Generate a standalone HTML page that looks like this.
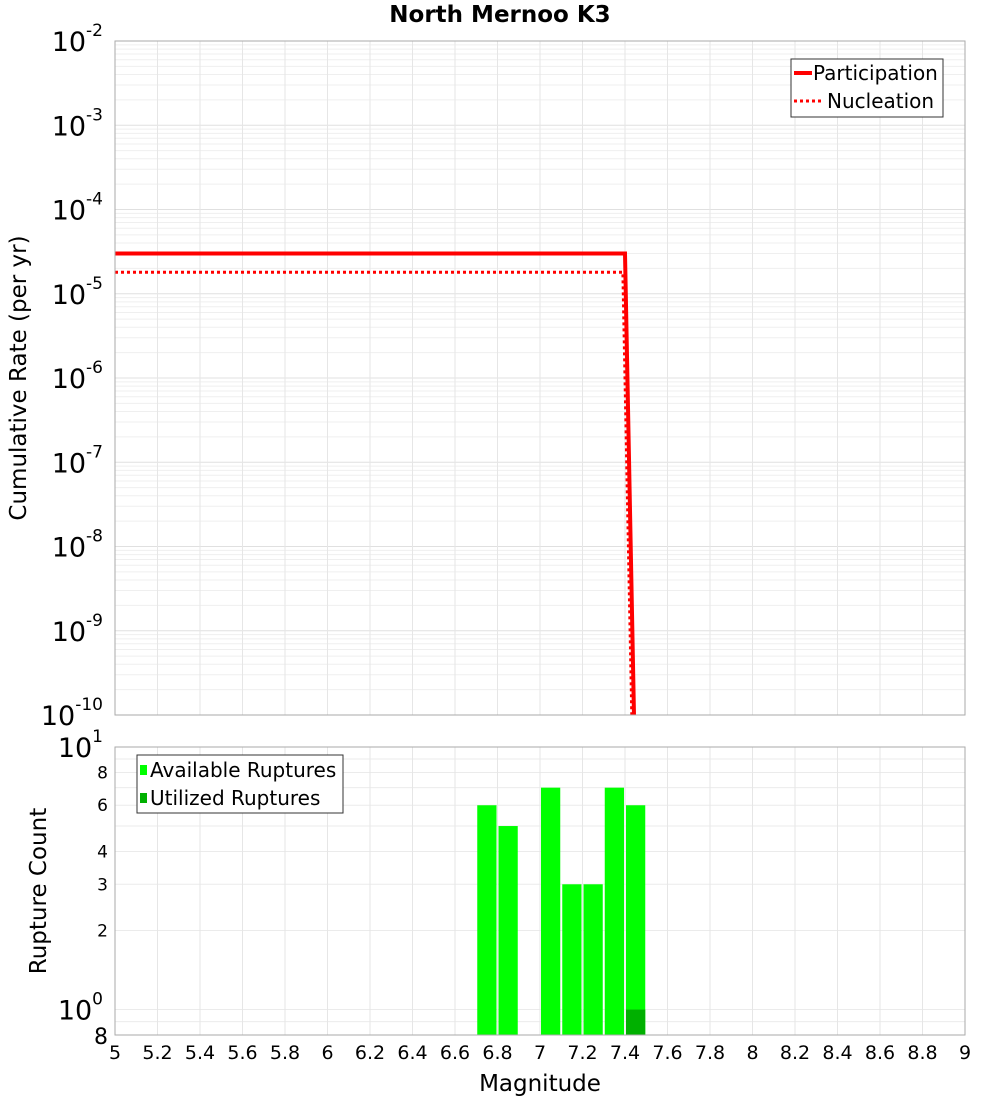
<!DOCTYPE html>
<html><head><meta charset="utf-8"><style>
body{margin:0;background:#fff;font-family:"Liberation Sans","DejaVu Sans",sans-serif}
svg text{font-family:"DejaVu Sans","Liberation Sans",sans-serif}
</style></head><body>
<svg id="c" width="1000" height="1100" xmlns="http://www.w3.org/2000/svg"></svg>
<script>
const partMags=[5,7.4,7.45];
const partRates=[3.0e-5,3.0e-5,1e-11];
const nuclMags=[5,7.39,7.44];
const nuclRates=[1.8e-5,1.8e-5,1e-11];
const binMags=[6.75,6.85,7.05,7.15,7.25,7.35,7.45];
const availCounts=[6,5,7,3,3,7,6];
const utilMags=[7.45];
const utilCounts=[1];
const xTicks=[5,5.2,5.4,5.6,5.8,6,6.2,6.4,6.6,6.8,7,7.2,7.4,7.6,7.8,8,8.2,8.4,8.6,8.8,9];
const topExps=[-2,-3,-4,-5,-6,-7,-8,-9,-10];
const botTicks=[2,3,4,6,8];

const NS="http://www.w3.org/2000/svg",svg=document.getElementById('c');
function el(t,a,p){const e=document.createElementNS(NS,t);for(const k in a)e.setAttribute(k,a[k]);(p||svg).appendChild(e);return e;}
const X0=115,X1=965;
const sx=m=>X0+(m-5)/4*(X1-X0);
const T0=41,T1=715;
const sy1=v=>T0+(-2-Math.log10(v))/8*(T1-T0);
const B0=747,B1=1035,bl=Math.log10(0.8);
const sy2=v=>B0+(1-Math.log10(v))/(1-bl)*(B1-B0);

const g1=el('g',{});
for(let e=-10;e<-2;e++)for(let k=1;k<10;k++){const y=sy1(k*Math.pow(10,e));el('line',{x1:X0,x2:X1,y1:y,y2:y,stroke:k==1?'#e0e0e0':'#efefef','stroke-width':1},g1);}
xTicks.forEach(m=>{el('line',{x1:sx(m),x2:sx(m),y1:T0,y2:T1,stroke:'#e6e6e6'},g1);});
const g2=el('g',{});
[0.8,0.9,1,2,3,4,5,6,7,8,9,10].forEach(v=>{const y=sy2(v);el('line',{x1:X0,x2:X1,y1:y,y2:y,stroke:'#ebebeb'},g2);});
xTicks.forEach(m=>{el('line',{x1:sx(m),x2:sx(m),y1:B0,y2:B1,stroke:'#e6e6e6'},g2);});

const defs=el('defs',{});
const cp=el('clipPath',{id:'cp1'},defs);el('rect',{x:X0,y:T0,width:X1-X0,height:T1-T0},cp);
function line(ms,vs,attrs,name){let d=ms.map((m,i)=>(i?'L':'M')+sx(m)+','+sy1(vs[i])).join('');
 const p=el('path',Object.assign({d:d,fill:'none','clip-path':'url(#cp1)'},attrs));}
line(nuclMags,nuclRates,{stroke:'#ff0000','stroke-width':3,'stroke-dasharray':'3,3'},'nucleation-line');
line(partMags,partRates,{stroke:'#ff0000','stroke-width':4},'participation-line');

const bw=(sx(5.1)-sx(5))-2;
binMags.forEach((m,i)=>{const y=sy2(availCounts[i]);const r=el('rect',{x:sx(m)-bw/2,y:y,width:bw,height:B1-y,fill:'#00ff00'});
});
utilMags.forEach((m,i)=>{const y=sy2(utilCounts[i]);const r=el('rect',{x:sx(m)-bw/2,y:y,width:bw,height:B1-y,fill:'#00b000'});
});

el('rect',{x:X0,y:T0,width:X1-X0,height:T1-T0,fill:'none',stroke:'#aaa'});
el('rect',{x:X0,y:B0,width:X1-X0,height:B1-B0,fill:'none',stroke:'#aaa'});

const tt=el('text',{x:500,y:22,'text-anchor':'middle','font-size':23,'font-weight':'bold'});tt.textContent='North Mernoo K3';


topExps.forEach(e=>{const y=sy1(Math.pow(10,e));const t=el('text',{x:103,y:y+10,'text-anchor':'end','font-size':27});
t.textContent='10';const s=el('tspan',{dy:-15,'font-size':17},t);s.textContent=e;
});
[[10,'1'],[1,'0']].forEach(([v,e])=>{const y=sy2(v);const t=el('text',{x:103,y:y+10,'text-anchor':'end','font-size':27});
t.textContent='10';const s=el('tspan',{dy:-15,'font-size':17},t);s.textContent=e;
});
botTicks.concat([0.8]).forEach(v=>{const y=sy2(v);const t=el('text',{x:108,y:y+(v==0.8?9:6),'text-anchor':'end','font-size':v==0.8?22:17});
t.textContent=v==0.8?'8':v;});
xTicks.forEach(m=>{const t=el('text',{x:sx(m),y:1059,'text-anchor':'middle','font-size':19});t.textContent=m;
});
let t=el('text',{x:540,y:1091,'text-anchor':'middle','font-size':23});t.textContent='Magnitude';

t=el('text',{x:0,y:0,'text-anchor':'middle','font-size':23,transform:'translate(26,378) rotate(-90)'});t.textContent='Cumulative Rate (per yr)';

t=el('text',{x:0,y:0,'text-anchor':'middle','font-size':23,transform:'translate(46,891) rotate(-90)'});t.textContent='Rupture Count';


let lg=el('g',{});
el('rect',{x:791,y:59,width:152,height:58,fill:'#fff',stroke:'#333'},lg);
el('line',{x1:794,x2:812,y1:73,y2:73,stroke:'#f00','stroke-width':4},lg);
el('line',{x1:794,x2:822,y1:101,y2:101,stroke:'#f00','stroke-width':3,'stroke-dasharray':'3,3'},lg);
t=el('text',{x:813,y:80,'font-size':20},lg);t.textContent='Participation';
t=el('text',{x:827,y:108,'font-size':20},lg);t.textContent='Nucleation';
lg=el('g',{});
el('rect',{x:137,y:755,width:206,height:58,fill:'#fff',stroke:'#333'},lg);
el('rect',{x:140,y:765,width:7,height:10,fill:'#00ff00'},lg);
el('rect',{x:140,y:793,width:7,height:10,fill:'#00b000'},lg);
t=el('text',{x:150,y:777,'font-size':20},lg);t.textContent='Available Ruptures';
t=el('text',{x:150,y:805,'font-size':20},lg);t.textContent='Utilized Ruptures';
</script>
</body></html>
